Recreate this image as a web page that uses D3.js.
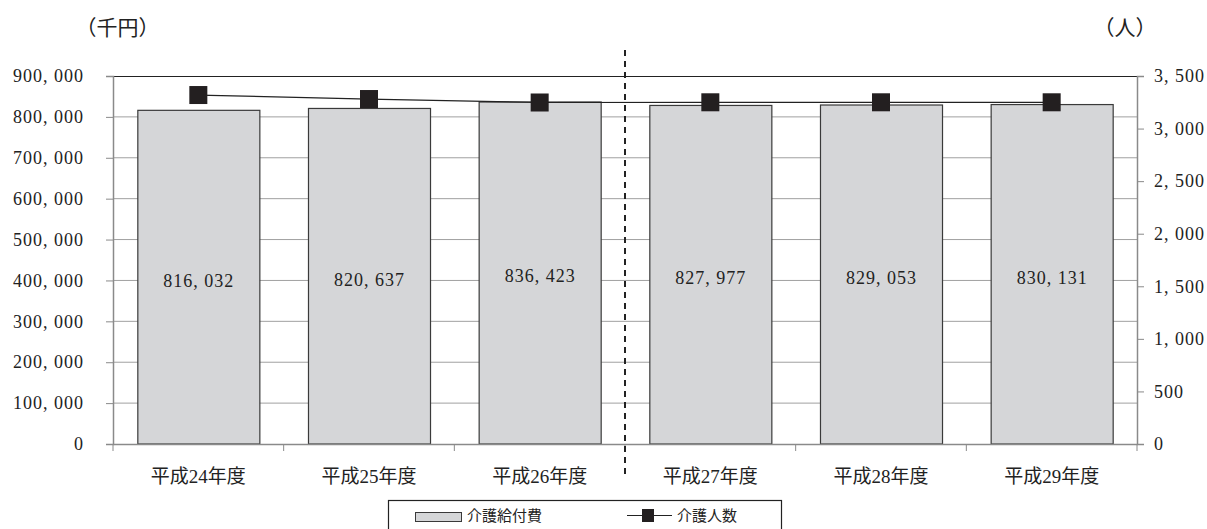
<!DOCTYPE html>
<html><head><meta charset="utf-8">
<script src="https://cdn.jsdelivr.net/npm/d3@7"></script>
<style>
html,body{margin:0;padding:0;background:#fff;}
svg text{font-family:"Liberation Serif","DejaVu Serif","Noto Sans CJK JP",serif;fill:#222;}
</style></head>
<body>
<svg id="c" width="1207" height="529"></svg>
<script>
const categories = ["平成24年度","平成25年度","平成26年度","平成27年度","平成28年度","平成29年度"];
const kaigoKyufuhi = [816032, 820637, 836423, 827977, 829053, 830131];
const kaigoNinzu = [3319, 3281, 3248, 3250, 3250, 3250];
const leftTicks = [0,100000,200000,300000,400000,500000,600000,700000,800000,900000];
const rightTicks = [0,500,1000,1500,2000,2500,3000,3500];
const seriesNames = ["介護給付費","介護人数"];
const unitLeft = "（千円）", unitRight = "（人）";

const svg = d3.select("#c");
const L = 113, R = 1137, T = 76, B = 444;
const fmt = v => d3.format(",")(v).replace(/,/g, ", ");
const NUMFONT = '"Liberation Serif","DejaVu Serif",serif';
const CJKFONT = '"Noto Sans CJK JP",sans-serif';

const x = d3.scaleBand().domain(categories).range([L, R]).paddingInner(0.285).paddingOuter(0.1425);
const xb = d3.scaleBand().domain(categories).range([L, R]);
const yL = d3.scaleLinear().domain([0, 900000]).range([B, T]);
const yR = d3.scaleLinear().domain([0, 3500]).range([B, T]);

// gridlines
svg.append("g").selectAll("line").data(leftTicks.filter(d => d > 0 && d < 900000)).join("line")
  .attr("x1", L).attr("x2", R).attr("y1", d => yL(d)).attr("y2", d => yL(d))
  .attr("stroke", "#a0a0a0").attr("stroke-width", 1);
// top border
svg.append("line").attr("x1", L).attr("x2", R).attr("y1", T + 0.5).attr("y2", T + 0.5).attr("stroke", "#222").attr("stroke-width", 1.2);

// bars
svg.append("g").selectAll("rect").data(kaigoKyufuhi).join("rect")
  .attr("x", (d, i) => x(categories[i]) + 0.5).attr("width", x.bandwidth())
  .attr("y", d => yL(d)).attr("height", d => B - yL(d))
  .attr("fill", "#d5d6d8").attr("stroke", "#3a3a3a").attr("stroke-width", 1.2);

// bar labels
svg.append("g").selectAll("text").data(kaigoKyufuhi).join("text")
  .attr("x", (d, i) => x(categories[i]) + x.bandwidth() / 2 + 0.5)
  .attr("y", d => (yL(d) + B) / 2 + 9.5)
  .attr("text-anchor", "middle").attr("font-size", 18).attr("letter-spacing", 1)
  .attr("font-family", NUMFONT).text(d => fmt(d));

// left axis
const gl = svg.append("g").attr("transform", `translate(${L},0)`)
  .call(d3.axisLeft(yL).tickValues(leftTicks).tickFormat(fmt).tickSize(7).tickPadding(22));
gl.select(".domain").attr("stroke", "#8a8a8a").attr("stroke-width", 1.5);
gl.selectAll(".tick line").attr("stroke", "#8a8a8a");
gl.selectAll("text").attr("font-size", 18).attr("letter-spacing", 1).attr("font-family", NUMFONT).attr("fill", "#222");

// right axis
const gr = svg.append("g").attr("transform", `translate(${R},0)`)
  .call(d3.axisRight(yR).tickValues(rightTicks).tickFormat(fmt).tickSize(7).tickPadding(10));
gr.select(".domain").attr("stroke", "#8a8a8a").attr("stroke-width", 1.5);
gr.selectAll(".tick line").attr("stroke", "#8a8a8a");
gr.selectAll("text").attr("font-size", 18).attr("letter-spacing", 1).attr("font-family", NUMFONT).attr("fill", "#222");

// bottom axis
const gb = svg.append("g").attr("transform", `translate(0,${B})`)
  .call(d3.axisBottom(xb).tickSize(0).tickPadding(26));
gb.select(".domain").attr("stroke", "#8a8a8a").attr("stroke-width", 1.5);
gb.selectAll("text").attr("font-size", 19).attr("font-family", CJKFONT).attr("fill", "#222");
// band boundary ticks
svg.append("g").selectAll("line").data(d3.range(categories.length + 1)).join("line")
  .attr("x1", i => L + i * xb.step()).attr("x2", i => L + i * xb.step())
  .attr("y1", B).attr("y2", B + 7).attr("stroke", "#8a8a8a");

// dashed divider
svg.append("line").attr("x1", xb(categories[3])).attr("x2", xb(categories[3]))
  .attr("y1", 50).attr("y2", 474).attr("stroke", "#222").attr("stroke-width", 2).attr("stroke-dasharray", "6,5");

// line series
const lx = (d, i) => xb(categories[i]) + xb.bandwidth() / 2;
svg.append("path").datum(kaigoNinzu)
  .attr("d", d3.line().x(lx).y(d => yR(d)))
  .attr("fill", "none").attr("stroke", "#222").attr("stroke-width", 1.2);
svg.append("g").selectAll("rect").data(kaigoNinzu).join("rect")
  .attr("x", (d, i) => lx(d, i) - 9).attr("y", d => yR(d) - 9)
  .attr("width", 18).attr("height", 18).attr("fill", "#231f20");

// units
svg.append("text").attr("x", 117.5).attr("y", 35).attr("font-size", 21).attr("text-anchor", "middle")
  .attr("font-family", CJKFONT).text(unitLeft);
svg.append("text").attr("x", 1125).attr("y", 35).attr("font-size", 21).attr("text-anchor", "middle")
  .attr("font-family", CJKFONT).text(unitRight);

// legend
const lg = svg.append("g");
lg.append("rect").attr("x", 388.5).attr("y", 500.5).attr("width", 393).attr("height", 40)
  .attr("fill", "#fff").attr("stroke", "#222").attr("stroke-width", 1.2);
lg.append("rect").attr("x", 415.5).attr("y", 512.5).attr("width", 46).attr("height", 9)
  .attr("fill", "#d5d6d8").attr("stroke", "#3a3a3a");
lg.append("text").attr("x", 467).attr("y", 521).attr("font-size", 15)
  .attr("font-family", CJKFONT).text(seriesNames[0]);
lg.append("line").attr("x1", 627).attr("x2", 672).attr("y1", 515.5).attr("y2", 515.5).attr("stroke", "#222").attr("stroke-width", 1.2);
lg.append("rect").attr("x", 642).attr("y", 509).attr("width", 12).attr("height", 13).attr("fill", "#231f20");
lg.append("text").attr("x", 677).attr("y", 521).attr("font-size", 15)
  .attr("font-family", CJKFONT).text(seriesNames[1]);
</script>
</body></html>
